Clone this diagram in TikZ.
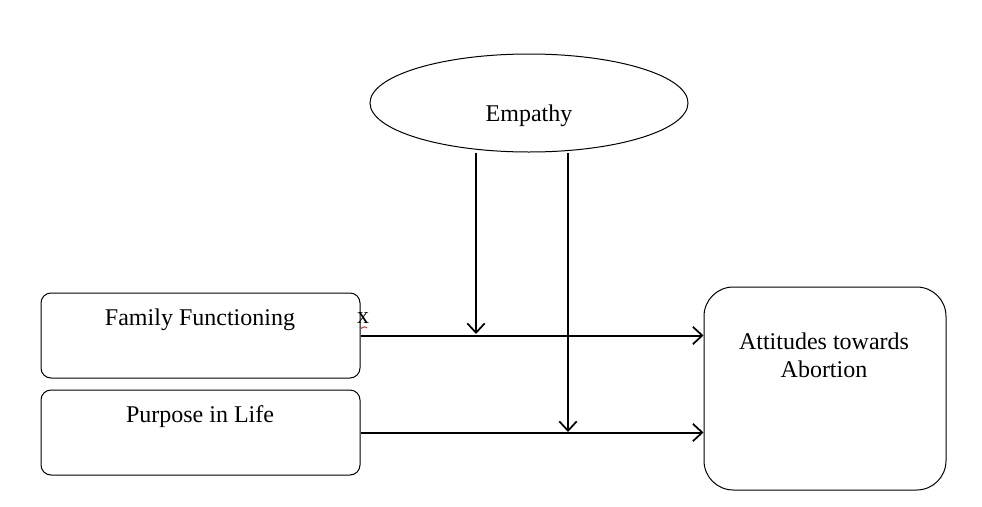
\documentclass[tikz,border=0pt]{standalone}
\usepackage{fontspec}
\setmainfont{Liberation Serif}
\usetikzlibrary{shapes.geometric,arrows.meta}
\begin{document}
\begin{tikzpicture}[x=0.75pt,y=-0.75pt,
  box/.style={draw=black,line width=0.75pt,rounded corners=7.5pt,minimum width=239.25pt,minimum height=63.75pt,inner sep=0pt},
  lbl/.style={font=\fontsize{18}{21}\selectfont},
  arr/.style={line width=1.5pt,-{Straight Barb[length=7pt,width=13pt,line width=1.3pt]}}]
\useasboundingbox (0,0) rectangle (982,507);
\node[draw=black,line width=0.75pt,ellipse,minimum width=238.5pt,minimum height=73.5pt,inner sep=0pt] (emp) at (529,103) {};
\node[lbl] at (529,116) {Empathy};
\node[box] (ff) at (200.5,335.5) {};
\node[lbl] at (200,320) {Family Functioning};
\node[box] (pl) at (200.5,432.5) {};
\node[lbl] at (200,417) {Purpose in Life};
\node[draw=black,line width=0.75pt,rounded corners=22pt,minimum width=181.5pt,minimum height=152.25pt,inner sep=0pt] (att) at (825,388.5) {};
\node[lbl,align=center] at (824,355) {Attitudes towards\\Abortion};
\node[lbl] (x) at (363,318) {x};
\draw[red,line width=0.6pt] (360,327) .. controls (362,331) and (364,324) .. (367,328);
\coordinate (j1) at (476,334);
\coordinate (j2) at (568,432);
\draw[arr] (ff.east) -- (att.west |- ff.east);
\draw[arr] (pl.east) -- (att.west |- pl.east);
\draw[arr] (j1 |- emp.south) -- (j1);
\draw[arr] (j2 |- emp.south) -- (j2);
\end{tikzpicture}
\end{document}
